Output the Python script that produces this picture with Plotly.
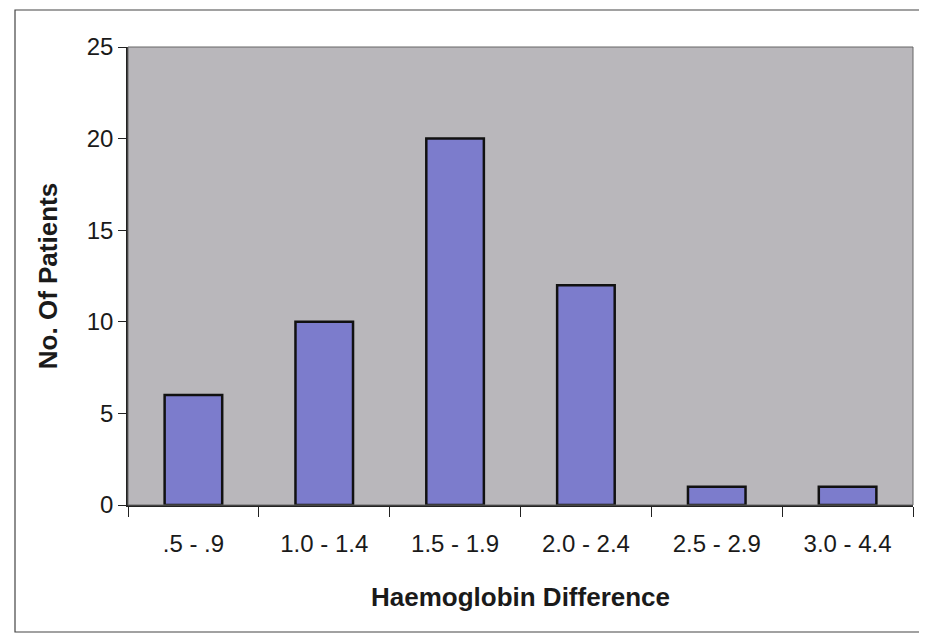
import plotly.graph_objects as go

categories = [".5 - .9", "1.0 - 1.4", "1.5 - 1.9", "2.0 - 2.4", "2.5 - 2.9", "3.0 - 4.4"]
patients = [6, 10, 20, 12, 1, 1]
y_ticks = [0, 5, 10, 15, 20, 25]

fig = go.Figure(go.Bar(
    x=categories, y=patients,
    marker=dict(color="#7C7CCC", line=dict(color="#111111", width=2.5)),
))

font = "Liberation Sans, Arial, sans-serif"
L, R, T, B = 120, 6, 39, 130
W, H = 911, 627
pw, ph = W - L - R, H - T - B
fig.update_layout(
    width=W, height=H,
    margin=dict(l=L, r=R, t=T, b=B),
    paper_bgcolor="white",
    plot_bgcolor="#B9B7BB",
    bargap=0.56,
    showlegend=False,
    font=dict(family=font, size=24, color="#1a1a1a"),
    xaxis=dict(
        title=dict(text="<b>Haemoglobin Difference</b>", font=dict(size=26), standoff=32),
        tickson="boundaries", ticks="outside", ticklen=10, tickcolor="#222",
        ticklabelstandoff=16,
        showline=True, linecolor="#222", linewidth=1.5, mirror=False,
        showgrid=False, tickfont=dict(size=24),
    ),
    yaxis=dict(
        title=dict(text="<b>No. Of Patients</b>", font=dict(size=26), standoff=22),
        range=[0, 25], tickvals=y_ticks, ticks="outside", ticklen=8, tickcolor="#222",
        showline=True, linecolor="#222", linewidth=1.5,
        showgrid=False, zeroline=False, tickfont=dict(size=24),
    ),
    shapes=[
        dict(type="rect", xref="paper", yref="paper", x0=0, x1=1, y0=0, y1=1,
             line=dict(color="#666", width=1)),
        dict(type="rect", xref="paper", yref="paper",
             x0=(7 - L) / pw, x1=1.05, y0=-(H - 3 - T - ph) / ph, y1=1 + (T - 2) / ph,
             line=dict(color="#444", width=1.2), layer="below"),
    ],
)

fig.write_html("out.html")
